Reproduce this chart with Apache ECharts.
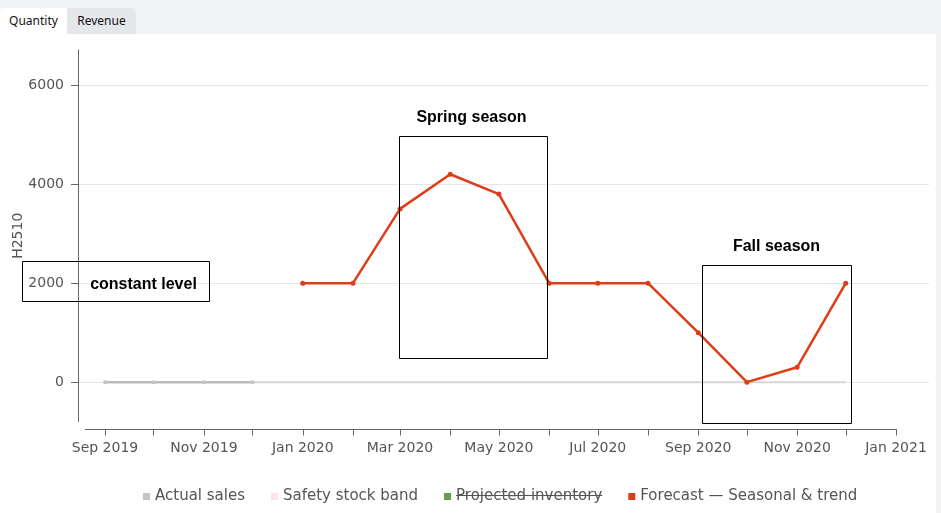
<!DOCTYPE html>
<html><head><meta charset="utf-8">
<script src="https://cdn.jsdelivr.net/npm/echarts@6/dist/echarts.min.js"></script>
<style>
html,body{margin:0;padding:0;width:941px;height:513px;overflow:hidden;background:#f3f4f6;}
#tabs{position:absolute;left:0;top:8px;height:26px;display:flex;font-family:"Noto Sans",sans-serif;font-size:12px;}
.tab{height:26px;line-height:26px;text-align:center;color:#111;box-sizing:border-box;}
.tab.active{width:67px;background:#fff;border-radius:4px 0 0 0;}
.tab.off{width:69px;background:#e5e7eb;border-radius:0 4px 0 0;}
#panel{position:absolute;left:0;top:34px;width:936px;height:479px;background:#fff;}
#chart{position:absolute;left:0;top:0;width:941px;height:513px;}
</style></head>
<body>
<div id="tabs"><div class="tab active">Quantity</div><div class="tab off">Revenue</div></div>
<div id="panel"></div>
<div id="chart"></div>
<script>
// ---- data ----
const actualMonths = ['2019-09','2019-10','2019-11','2019-12'];
const actualSales = [0, 0, 0, 0];
const forecastMonths = ['2020-01','2020-02','2020-03','2020-04','2020-05','2020-06','2020-07','2020-08','2020-09','2020-10','2020-11','2020-12'];
const forecastValues = [2000, 2000, 3500, 4200, 3800, 2000, 2000, 2000, 1000, 0, 300, 2000];
const baselineMonths = ['2019-12','2020-01','2020-02','2020-03','2020-04','2020-05','2020-06','2020-07','2020-08','2020-09','2020-10','2020-11','2020-12'];
const baselineValues = [0, 0, 0, 0, 0, 0, 0, 0, 0, 0, 0, 0, 0];
const tickMonths = ['2019-09','2019-10','2019-11','2019-12','2020-01','2020-02','2020-03','2020-04','2020-05','2020-06','2020-07','2020-08','2020-09','2020-10','2020-11','2020-12','2021-01'];
const labelMonths = ['2019-09','2019-11','2020-01','2020-03','2020-05','2020-07','2020-09','2020-11','2021-01'];
const yTicks = [0, 2000, 4000, 6000];
const legendNames = ['Actual sales','Safety stock band','Projected inventory','Forecast — Seasonal & trend'];
const yAxisName = 'H2510';
const monthNames = ['Jan','Feb','Mar','Apr','May','Jun','Jul','Aug','Sep','Oct','Nov','Dec'];

function ts(m){ const p = m.split('-'); return Date.UTC(+p[0], +p[1]-1, 1); }
function pairs(ms, vs){ return ms.map((m,i)=>[ts(m), vs[i]]); }
const DAY = 86400000;

const font = 'DejaVu Sans';
// legend layout (for the strikethrough on "Projected inventory")
const LEG_LEFT = 143, LEG_ICON = 7, LEG_TEXTGAP = 5, LEG_GAP = 26, LEG_FONT = '15px "DejaVu Sans"';
const mctx = document.createElement('canvas').getContext('2d');
mctx.font = LEG_FONT;
let sx = LEG_LEFT;
for (let i = 0; i < 2; i++) sx += LEG_ICON + LEG_TEXTGAP + mctx.measureText(legendNames[i]).width + LEG_GAP;
const strikeX1 = sx + LEG_ICON + LEG_TEXTGAP;
const strikeX2 = strikeX1 + mctx.measureText(legendNames[2]).width;

const chart = echarts.init(document.getElementById('chart'), null, {renderer:'canvas'});
const option = {
  animation: false,
  backgroundColor: 'transparent',
  grid: {left: 78, right: 12, top: 50, bottom: 91.5, containLabel: false, outerBoundsMode: 'none'},
  xAxis: {
    type: 'value',
    min: ts('2019-09') - 16.66*DAY,
    max: ts('2021-01') + 20.36*DAY,
    offset: 8,
    axisLine: {show: false, onZero: false},
    axisTick: {show: true, length: 6, lineStyle: {color: '#666'}, customValues: tickMonths.map(ts)},
    axisLabel: {
      customValues: labelMonths.map(ts), color: '#555', fontSize: 14, fontFamily: font, margin: 12,
      formatter: function(v){ const d = new Date(v); return monthNames[d.getUTCMonth()] + ' ' + d.getUTCFullYear(); }
    },
    splitLine: {show: false}
  },
  yAxis: {
    type: 'value', min: -795, max: 6710,
    name: yAxisName, nameLocation: 'middle', nameGap: 53, nameMoveOverlap: false,
    nameTextStyle: {color: '#555', fontSize: 14, fontFamily: font},
    axisLine: {show: true, onZero: false, lineStyle: {color: '#666'}},
    axisTick: {show: true, length: 7, lineStyle: {color: '#666'}, customValues: yTicks},
    axisLabel: {customValues: yTicks, color: '#555', fontSize: 14, fontFamily: font, margin: 14,
      formatter: function(v){ return String(v); }},
    splitLine: {show: true, lineStyle: {color: '#e6e6e6'}}
  },
  legend: {
    left: LEG_LEFT, top: 489, padding: 0, itemWidth: LEG_ICON, itemHeight: LEG_ICON, itemGap: LEG_GAP, icon: 'rect',
    data: legendNames,
    textStyle: {color: '#555', fontSize: 15, fontFamily: font}
  },
  series: [
    {name: 'baseline', type: 'line', data: pairs(baselineMonths, baselineValues), showSymbol: false, symbol: 'none',
      lineStyle: {color: '#d6d6d6', width: 2}, itemStyle: {color: '#d6d6d6'}, z: 1, silent: true},
    {name: legendNames[0], type: 'line', data: pairs(actualMonths, actualSales), symbol: 'circle', symbolSize: 4,
      lineStyle: {color: '#bbbbbb', width: 2.5}, itemStyle: {color: '#c4c4c4'}, z: 2},
    {name: legendNames[1], type: 'line', data: [], itemStyle: {color: '#fde2ea'}, areaStyle: {color: '#fde2ea'}},
    {name: legendNames[2], type: 'line', data: [], itemStyle: {color: '#6a9a4f'}},
    {name: legendNames[3], type: 'line', data: pairs(forecastMonths, forecastValues), symbol: 'circle', symbolSize: 5,
      lineStyle: {color: '#dd3d18', width: 2.5}, itemStyle: {color: '#dd3d18'}, z: 3}
  ],
  graphic: [
    {type: 'line', shape: {x1: 85, y1: 429.5, x2: 897, y2: 429.5}, style: {stroke: '#666', lineWidth: 1}, z: 10},
    {type: 'rect', shape: {x: 22.5, y: 261.5, width: 187, height: 40}, style: {fill: 'rgba(255,255,255,0)', stroke: '#000', lineWidth: 1}, z: 20},
    {type: 'text', x: 143.5, y: 285, style: {text: 'constant level', fontSize: 16, fontWeight: 'bold', fontFamily: 'Liberation Sans', fill: '#000', align: 'center', verticalAlign: 'middle'}, z: 20},
    {type: 'rect', shape: {x: 399.5, y: 136.5, width: 148, height: 222}, style: {fill: 'rgba(255,255,255,0)', stroke: '#000', lineWidth: 1}, z: 20},
    {type: 'text', x: 471.5, y: 118, style: {text: 'Spring season', fontSize: 16, fontWeight: 'bold', fontFamily: 'Liberation Sans', fill: '#000', align: 'center', verticalAlign: 'middle'}, z: 20},
    {type: 'rect', shape: {x: 702.5, y: 265.5, width: 149, height: 158}, style: {fill: 'rgba(255,255,255,0)', stroke: '#000', lineWidth: 1}, z: 20},
    {type: 'text', x: 776.5, y: 246.5, style: {text: 'Fall season', fontSize: 16, fontWeight: 'bold', fontFamily: 'Liberation Sans', fill: '#000', align: 'center', verticalAlign: 'middle'}, z: 20},
    {type: 'line', shape: {x1: strikeX1, y1: 495.5, x2: strikeX2, y2: 495.5}, style: {stroke: '#555', lineWidth: 1}, z: 20}
  ]
};
chart.setOption(option);
</script>
</body></html>
